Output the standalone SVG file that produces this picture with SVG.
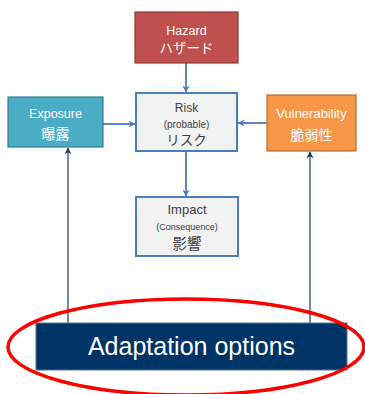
<svg xmlns="http://www.w3.org/2000/svg" width="365" height="394" viewBox="0 0 365 394">
<defs>
<style>
.t{font-family:"Liberation Sans","Noto Sans CJK JP",sans-serif;text-anchor:middle}
.w{fill:#ffffff}
.d{fill:#404040}
.blue{stroke:#4a7ebb;stroke-width:1.8;fill:none}
.navy{stroke:#1f3864;stroke-width:1.2;fill:none}
</style>
<marker id="ab" viewBox="0 0 10 10" refX="9" refY="5" markerWidth="4" markerHeight="4" orient="auto">
<path d="M0,0 L10,5 L0,10 L3,5 z" fill="#4a7ebb"/>
</marker>
<marker id="an" viewBox="0 0 10 10" refX="9" refY="5" markerWidth="6" markerHeight="6" orient="auto">
<path d="M0,0 L10,5 L0,10 L3,5 z" fill="#1f3864"/>
</marker>
</defs>
<rect width="365" height="394" fill="#ffffff"/>
<g id="connectors">
<line class="blue" x1="186" y1="63" x2="186" y2="92" marker-end="url(#ab)"/>
<line class="blue" x1="103" y1="124" x2="135" y2="124" marker-end="url(#ab)"/>
<line class="blue" x1="267" y1="123" x2="238" y2="123" marker-end="url(#ab)"/>
<line class="blue" x1="186" y1="152" x2="186" y2="196" marker-end="url(#ab)"/>
<line class="navy" x1="68" y1="323" x2="68" y2="148" marker-end="url(#an)"/>
<line class="navy" x1="310" y1="323" x2="310" y2="152" marker-end="url(#an)"/>
</g>
<g id="hazard">
<rect x="135" y="12" width="103" height="51" fill="#c0504d" stroke="#8c3a38" stroke-width="1.2"/>
<text class="t w" x="186.5" y="35" font-size="12.5">Hazard</text>
<text class="t w" x="186.5" y="53" font-size="13.5">ハザード</text>
</g>
<g id="exposure">
<rect x="8" y="97" width="95" height="50" fill="#4bacc6" stroke="#357d91" stroke-width="1.2"/>
<text class="t w" x="55.5" y="118" font-size="12.5">Exposure</text>
<text class="t w" x="55.5" y="139" font-size="14">曝露</text>
</g>
<g id="risk">
<rect x="136" y="93" width="101" height="58" fill="#f2f2f2" stroke="#4a7ebb" stroke-width="2"/>
<text class="t d" x="186.5" y="112" font-size="12">Risk</text>
<text class="t d" x="186.5" y="128" font-size="10">(probable)</text>
<text class="t d" x="186.5" y="145" font-size="13.5">リスク</text>
</g>
<g id="vulnerability">
<rect x="267" y="95" width="89" height="56" fill="#f79646" stroke="#b66d31" stroke-width="1.2"/>
<text class="t w" x="311.5" y="118" font-size="13">Vulnerability</text>
<text class="t w" x="311.5" y="140" font-size="14">脆弱性</text>
</g>
<g id="impact">
<rect x="136" y="197" width="102" height="59" fill="#f2f2f2" stroke="#4a7ebb" stroke-width="2"/>
<text class="t d" x="187" y="214" font-size="13">Impact</text>
<text class="t d" x="187" y="230" font-size="9">(Consequence)</text>
<text class="t d" x="187" y="249" font-size="14.5">影響</text>
</g>
<g id="adaptation">
<rect x="36" y="323" width="311" height="47" fill="#003366" stroke="#5a7394" stroke-width="1"/>
<text class="t w" x="191.5" y="355" font-size="25">Adaptation options</text>
</g>
<ellipse cx="186" cy="347" rx="178" ry="48" fill="none" stroke="#ff0000" stroke-width="3.5"/>
</svg>
